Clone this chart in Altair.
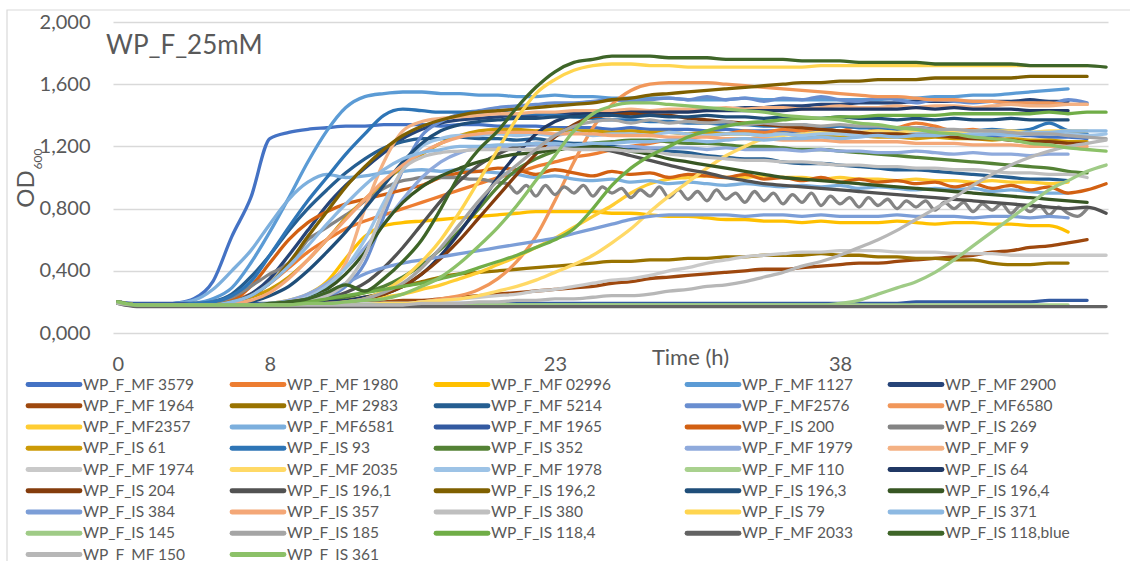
import altair as alt
import pandas as pd

# ---- time grids (hours) ----
HOURS = list(range(53))
HALF_HOURS = [h / 2 for h in range(103)]

# ---- OD600 readings per strain ----
mf_3579 = [
    0.20, 0.18, 0.18, 0.19, 0.22, 0.33, 0.62, 0.87, 1.25, 1.29,
    1.31, 1.32, 1.33, 1.33, 1.34, 1.34, 1.34, 1.33, 1.34, 1.34,
    1.33, 1.33, 1.33, 1.32, 1.32, 1.32, 1.31, 1.32, 1.31, 1.31,
    1.31, 1.30, 1.31, 1.30, 1.30, 1.30, 1.29, 1.30, 1.29, 1.29,
    1.29, 1.28, 1.28, 1.29, 1.28, 1.28, 1.27, 1.27, 1.27, 1.26,
    1.26, 1.25]
mf_1980 = [
    0.20, 0.18, 0.18, 0.18, 0.18, 0.19, 0.21, 0.25, 0.32, 0.42,
    0.52, 0.60, 0.67, 0.72, 0.76, 0.80, 0.84, 0.88, 0.92, 0.96,
    1.00, 1.03, 1.07, 1.10, 1.13, 1.15, 1.18, 1.20, 1.22, 1.24,
    1.25, 1.27, 1.28, 1.30, 1.29, 1.31, 1.30, 1.32, 1.30, 1.33,
    1.31, 1.32, 1.35, 1.33, 1.30, 1.31, 1.29, 1.30, 1.28, 1.29,
    1.27]
mf_02996 = [
    0.20, 0.18, 0.18, 0.18, 0.18, 0.18, 0.18, 0.18, 0.19, 0.21,
    0.25, 0.33, 0.48, 0.62, 0.69, 0.71, 0.72, 0.73, 0.74, 0.75,
    0.76, 0.77, 0.78, 0.78, 0.78, 0.78, 0.77, 0.77, 0.76, 0.75,
    0.75, 0.74, 0.73, 0.73, 0.72, 0.72, 0.71, 0.72, 0.71, 0.71,
    0.71, 0.72, 0.71, 0.70, 0.71, 0.71, 0.70, 0.70, 0.69, 0.69,
    0.65]
mf_1127 = [
    0.20, 0.18, 0.18, 0.18, 0.19, 0.22, 0.29, 0.45, 0.65, 0.87,
    1.10, 1.30, 1.45, 1.52, 1.54, 1.55, 1.55, 1.54, 1.54, 1.53,
    1.53, 1.52, 1.52, 1.53, 1.52, 1.52, 1.51, 1.51, 1.51, 1.51,
    1.50, 1.50, 1.50, 1.51, 1.50, 1.50, 1.50, 1.50, 1.50, 1.50,
    1.50, 1.51, 1.51, 1.52, 1.52, 1.53, 1.53, 1.54, 1.55, 1.56,
    1.57]
mf_2900 = [
    0.20, 0.18, 0.18, 0.18, 0.18, 0.19, 0.20, 0.25, 0.35, 0.50,
    0.66, 0.82, 0.95, 1.06, 1.16, 1.25, 1.31, 1.35, 1.37, 1.38,
    1.39, 1.40, 1.40, 1.41, 1.41, 1.41, 1.42, 1.42, 1.42, 1.43,
    1.43, 1.44, 1.44, 1.45, 1.45, 1.46, 1.46, 1.47, 1.47, 1.48,
    1.48, 1.48, 1.49, 1.49, 1.49, 1.49, 1.49, 1.49, 1.50, 1.49,
    1.49]
mf_1964 = [
    0.20, 0.18, 0.18, 0.18, 0.18, 0.18, 0.18, 0.18, 0.18, 0.18,
    0.18, 0.19, 0.19, 0.20, 0.20, 0.21, 0.21, 0.22, 0.23, 0.24,
    0.25, 0.26, 0.27, 0.28, 0.29, 0.30, 0.32, 0.33, 0.35, 0.36,
    0.37, 0.38, 0.39, 0.40, 0.41, 0.41, 0.42, 0.43, 0.44, 0.45,
    0.45, 0.46, 0.47, 0.48, 0.49, 0.50, 0.52, 0.53, 0.55, 0.56,
    0.58, 0.60]
mf_2983 = [
    0.20, 0.18, 0.18, 0.18, 0.18, 0.18, 0.18, 0.18, 0.18, 0.18,
    0.19, 0.20, 0.21, 0.23, 0.26, 0.30, 0.33, 0.36, 0.38, 0.39,
    0.40, 0.41, 0.42, 0.43, 0.44, 0.45, 0.46, 0.46, 0.47, 0.47,
    0.48, 0.48, 0.49, 0.49, 0.50, 0.50, 0.50, 0.51, 0.50, 0.50,
    0.49, 0.49, 0.48, 0.48, 0.47, 0.47, 0.45, 0.44, 0.44, 0.45,
    0.45]
mf_5214 = [
    0.20, 0.18, 0.18, 0.18, 0.18, 0.20, 0.25, 0.36, 0.50, 0.66,
    0.80, 0.92, 1.03, 1.12, 1.19, 1.23, 1.25, 1.25, 1.26, 1.25,
    1.25, 1.24, 1.25, 1.23, 1.22, 1.22, 1.20, 1.19, 1.18, 1.17,
    1.16, 1.14, 1.13, 1.12, 1.12, 1.10, 1.09, 1.09, 1.08, 1.07,
    1.06, 1.05, 1.05, 1.04, 1.03, 1.02, 1.01, 1.00, 0.99, 0.99,
    0.98]
mf_2576 = [
    0.20, 0.18, 0.18, 0.18, 0.18, 0.18, 0.18, 0.18, 0.18, 0.19,
    0.20, 0.23, 0.30, 0.45, 0.75, 1.05, 1.27, 1.36, 1.41, 1.43,
    1.45, 1.46, 1.47, 1.48, 1.48, 1.49, 1.50, 1.49, 1.50, 1.51,
    1.50, 1.52, 1.50, 1.51, 1.49, 1.51, 1.50, 1.52, 1.50, 1.49,
    1.51, 1.50, 1.48, 1.50, 1.49, 1.48, 1.49, 1.47, 1.48, 1.47,
    1.50, 1.48]
mf_6580 = [
    0.20, 0.18, 0.18, 0.18, 0.18, 0.18, 0.18, 0.18, 0.18, 0.18,
    0.18, 0.18, 0.18, 0.18, 0.19, 0.19, 0.20, 0.22, 0.24, 0.28,
    0.35, 0.46, 0.62, 0.85, 1.10, 1.32, 1.47, 1.56, 1.60, 1.61,
    1.61, 1.61, 1.60, 1.59, 1.58, 1.57, 1.56, 1.55, 1.54, 1.53,
    1.52, 1.52, 1.51, 1.50, 1.50, 1.49, 1.49, 1.48, 1.48, 1.48,
    1.47, 1.47]
mf_2357 = [
    0.20, 0.18, 0.18, 0.18, 0.18, 0.18, 0.18, 0.18, 0.18, 0.18,
    0.18, 0.19, 0.20, 0.21, 0.23, 0.25, 0.28, 0.31, 0.35, 0.39,
    0.44, 0.49, 0.55, 0.61, 0.68, 0.75, 0.82, 0.90, 0.96, 0.99,
    1.00, 1.01, 1.00, 1.00, 1.01, 1.00, 1.00, 0.99, 1.00, 0.99,
    0.99, 0.98, 0.99, 0.98, 0.98, 0.97, 0.98, 0.97, 0.97, 0.96,
    0.97]
mf_6581 = [
    0.20, 0.18, 0.18, 0.19, 0.21, 0.28, 0.40, 0.53, 0.70, 0.86,
    0.97, 1.02, 1.00, 1.01, 1.03, 1.04, 1.05, 1.04, 1.05, 1.04,
    1.03, 1.02, 1.00, 1.01, 0.99, 0.98, 0.99, 0.97, 0.98, 0.96,
    0.97, 0.96, 0.95, 0.96, 0.95, 0.94, 0.95, 0.94, 0.95, 0.93,
    0.94, 0.93, 0.92, 0.93, 0.92, 0.93, 0.91, 0.92, 0.91, 0.90,
    0.90]
mf_1965 = [
    0.20, 0.19, 0.19, 0.19, 0.19, 0.19, 0.19, 0.19, 0.19, 0.19,
    0.19, 0.19, 0.19, 0.19, 0.19, 0.19, 0.19, 0.19, 0.19, 0.19,
    0.19, 0.19, 0.19, 0.19, 0.19, 0.19, 0.19, 0.19, 0.19, 0.19,
    0.19, 0.19, 0.19, 0.19, 0.19, 0.19, 0.19, 0.19, 0.19, 0.19,
    0.19, 0.19, 0.20, 0.20, 0.20, 0.20, 0.20, 0.20, 0.20, 0.21,
    0.21, 0.21]
is_200 = [
    0.20, 0.18, 0.18, 0.18, 0.18, 0.19, 0.21, 0.30, 0.45, 0.60,
    0.71, 0.78, 0.83, 0.86, 0.89, 0.92, 0.95, 1.00, 1.03, 1.04,
    1.06, 1.05, 1.02, 1.05, 1.03, 1.01, 1.04, 1.02, 1.03, 1.00,
    1.02, 1.01, 1.00, 1.02, 0.99, 1.00, 0.98, 1.00, 0.97, 0.99,
    0.97, 0.98, 0.96, 0.97, 0.94, 0.96, 0.93, 0.95, 0.92, 0.94,
    0.90, 0.92, 0.96]
# read every half hour
is_269 = [
    0.20, 0.18, 0.18, 0.18, 0.18, 0.18, 0.18, 0.18, 0.19, 0.19,
    0.20, 0.21, 0.23, 0.26, 0.30, 0.34, 0.38, 0.41, 0.45, 0.52,
    0.60, 0.64, 0.68, 0.72, 0.76, 0.80, 0.85, 0.89, 0.93, 0.96,
    0.98, 0.99, 1.00, 1.00, 1.00, 1.00, 1.00, 0.99, 0.99, 0.98,
    0.97, 0.96, 0.90, 0.95, 0.88, 0.95, 0.89, 0.94, 0.90, 0.95,
    0.88, 0.94, 0.90, 0.93, 0.87, 0.92, 0.88, 0.94, 0.87, 0.92,
    0.86, 0.91, 0.85, 0.92, 0.86, 0.90, 0.84, 0.91, 0.85, 0.90,
    0.83, 0.89, 0.84, 0.90, 0.82, 0.88, 0.83, 0.87, 0.81, 0.87,
    0.82, 0.86, 0.80, 0.85, 0.81, 0.85, 0.79, 0.84, 0.80, 0.84,
    0.78, 0.83, 0.79, 0.83, 0.77, 0.82, 0.78, 0.82, 0.76, 0.81,
    0.77, 0.75, 0.80]
is_61 = [
    0.20, 0.18, 0.18, 0.18, 0.18, 0.18, 0.20, 0.23, 0.28, 0.36,
    0.47, 0.60, 0.74, 0.86, 0.97, 1.07, 1.15, 1.22, 1.27, 1.30,
    1.31, 1.31, 1.30, 1.31, 1.30, 1.30, 1.29, 1.30, 1.29, 1.29,
    1.28, 1.29, 1.28, 1.28, 1.27, 1.28, 1.27, 1.27, 1.26, 1.27,
    1.26, 1.26, 1.25, 1.26, 1.25, 1.25, 1.24, 1.25, 1.24, 1.24,
    1.23, 1.23]
is_93 = [
    0.20, 0.18, 0.18, 0.18, 0.19, 0.20, 0.24, 0.33, 0.50, 0.68,
    0.85, 1.00, 1.15, 1.28, 1.40, 1.44, 1.43, 1.42, 1.42, 1.42,
    1.42, 1.41, 1.41, 1.40, 1.39, 1.38, 1.37, 1.37, 1.36, 1.36,
    1.35, 1.35, 1.34, 1.34, 1.33, 1.33, 1.34, 1.32, 1.33, 1.32,
    1.32, 1.31, 1.32, 1.31, 1.30, 1.30, 1.31, 1.30, 1.31, 1.35,
    1.30, 1.28]
is_352 = [
    0.20, 0.18, 0.18, 0.18, 0.18, 0.18, 0.18, 0.18, 0.18, 0.19,
    0.20, 0.21, 0.23, 0.26, 0.30, 0.36, 0.44, 0.54, 0.66, 0.80,
    0.94, 1.05, 1.12, 1.17, 1.20, 1.22, 1.23, 1.24, 1.24, 1.23,
    1.22, 1.22, 1.21, 1.20, 1.20, 1.19, 1.18, 1.18, 1.17, 1.16,
    1.15, 1.14, 1.13, 1.12, 1.11, 1.10, 1.09, 1.08, 1.07, 1.06,
    1.04, 1.03]
mf_1979 = [
    0.20, 0.18, 0.18, 0.18, 0.18, 0.18, 0.18, 0.18, 0.19, 0.21,
    0.25, 0.32, 0.42, 0.55, 0.70, 0.86, 1.00, 1.10, 1.16, 1.19,
    1.20, 1.20, 1.21, 1.20, 1.20, 1.20, 1.19, 1.20, 1.19, 1.19,
    1.19, 1.18, 1.19, 1.18, 1.18, 1.18, 1.17, 1.18, 1.17, 1.17,
    1.16, 1.16, 1.17, 1.16, 1.15, 1.16, 1.15, 1.15, 1.14, 1.15,
    1.15]
mf_9 = [
    0.20, 0.18, 0.18, 0.18, 0.18, 0.18, 0.18, 0.18, 0.18, 0.20,
    0.23, 0.30, 0.45, 0.80, 1.10, 1.30, 1.36, 1.38, 1.39, 1.40,
    1.41, 1.41, 1.42, 1.42, 1.43, 1.43, 1.43, 1.44, 1.43, 1.44,
    1.44, 1.44, 1.45, 1.44, 1.45, 1.45, 1.44, 1.45, 1.46, 1.45,
    1.45, 1.46, 1.45, 1.46, 1.46, 1.45, 1.46, 1.47, 1.46, 1.46,
    1.47, 1.47]
mf_1974 = [
    0.20, 0.18, 0.18, 0.18, 0.18, 0.18, 0.18, 0.18, 0.18, 0.18,
    0.18, 0.18, 0.18, 0.19, 0.19, 0.19, 0.20, 0.21, 0.22, 0.23,
    0.24, 0.25, 0.27, 0.28, 0.30, 0.32, 0.34, 0.35, 0.37, 0.40,
    0.42, 0.45, 0.47, 0.49, 0.50, 0.51, 0.52, 0.52, 0.53, 0.53,
    0.53, 0.52, 0.52, 0.52, 0.51, 0.51, 0.51, 0.50, 0.50, 0.50,
    0.50, 0.50, 0.50]
mf_2035 = [
    0.20, 0.18, 0.18, 0.18, 0.18, 0.18, 0.18, 0.18, 0.18, 0.18,
    0.18, 0.18, 0.18, 0.18, 0.19, 0.19, 0.20, 0.21, 0.22, 0.24,
    0.27, 0.30, 0.34, 0.39, 0.44, 0.50, 0.58, 0.67, 0.78, 0.88,
    0.97, 1.06, 1.14, 1.20, 1.25, 1.27, 1.28, 1.29, 1.29, 1.29,
    1.30, 1.29, 1.30, 1.30, 1.29, 1.30, 1.30, 1.30, 1.29, 1.30,
    1.30, 1.30]
mf_1978 = [
    0.20, 0.18, 0.18, 0.18, 0.18, 0.18, 0.18, 0.18, 0.19, 0.20,
    0.23, 0.30, 0.42, 0.60, 0.84, 1.05, 1.20, 1.25, 1.27, 1.27,
    1.28, 1.27, 1.28, 1.27, 1.29, 1.27, 1.28, 1.28, 1.27, 1.29,
    1.28, 1.27, 1.28, 1.28, 1.27, 1.28, 1.27, 1.28, 1.28, 1.27,
    1.28, 1.27, 1.28, 1.28, 1.27, 1.28, 1.28, 1.27, 1.28, 1.28,
    1.28, 1.27, 1.28]
mf_110 = [
    0.19, 0.18, 0.18, 0.18, 0.18, 0.18, 0.18, 0.18, 0.18, 0.18,
    0.18, 0.18, 0.18, 0.18, 0.18, 0.18, 0.18, 0.18, 0.18, 0.18,
    0.18, 0.18, 0.18, 0.18, 0.18, 0.18, 0.18, 0.18, 0.18, 0.18,
    0.18, 0.18, 0.18, 0.18, 0.18, 0.18, 0.18, 0.18, 0.18, 0.18,
    0.18, 0.18, 0.18, 0.18, 0.18, 0.18, 0.18, 0.18, 0.18, 0.18,
    0.18]
is_64 = [
    0.20, 0.18, 0.18, 0.18, 0.18, 0.18, 0.18, 0.18, 0.18, 0.18,
    0.19, 0.20, 0.21, 0.23, 0.25, 0.30, 0.38, 0.50, 0.65, 0.82,
    1.00, 1.15, 1.28, 1.36, 1.40, 1.41, 1.41, 1.42, 1.42, 1.42,
    1.42, 1.43, 1.43, 1.43, 1.43, 1.43, 1.44, 1.44, 1.44, 1.44,
    1.44, 1.44, 1.45, 1.44, 1.45, 1.44, 1.44, 1.44, 1.43, 1.43,
    1.43]
is_204 = [
    0.20, 0.18, 0.18, 0.18, 0.18, 0.18, 0.18, 0.18, 0.18, 0.18,
    0.18, 0.19, 0.20, 0.22, 0.25, 0.30, 0.38, 0.48, 0.60, 0.74,
    0.88, 1.02, 1.15, 1.26, 1.34, 1.39, 1.40, 1.41, 1.40, 1.40,
    1.38, 1.37, 1.36, 1.35, 1.34, 1.33, 1.32, 1.31, 1.30, 1.29,
    1.28, 1.28, 1.27, 1.27, 1.26, 1.25, 1.25, 1.24, 1.23, 1.23,
    1.22, 1.22]
is_196_1 = [
    0.20, 0.18, 0.18, 0.18, 0.18, 0.18, 0.18, 0.18, 0.18, 0.19,
    0.20, 0.22, 0.26, 0.32, 0.42, 0.55, 0.70, 0.85, 0.98, 1.08,
    1.15, 1.20, 1.22, 1.22, 1.21, 1.19, 1.17, 1.14, 1.11, 1.08,
    1.05, 1.03, 1.00, 0.98, 0.96, 0.95, 0.94, 0.93, 0.92, 0.91,
    0.90, 0.89, 0.88, 0.87, 0.86, 0.85, 0.84, 0.83, 0.82, 0.81,
    0.80, 0.81, 0.77]
is_196_2 = [
    0.20, 0.18, 0.18, 0.18, 0.18, 0.18, 0.20, 0.24, 0.32, 0.45,
    0.62, 0.78, 0.94, 1.07, 1.18, 1.27, 1.33, 1.37, 1.40, 1.42,
    1.43, 1.44, 1.45, 1.46, 1.47, 1.48, 1.50, 1.51, 1.53, 1.54,
    1.55, 1.56, 1.57, 1.58, 1.59, 1.60, 1.61, 1.61, 1.62, 1.62,
    1.63, 1.63, 1.63, 1.64, 1.64, 1.64, 1.64, 1.64, 1.65, 1.65,
    1.65, 1.65]
is_196_3 = [
    0.20, 0.18, 0.18, 0.18, 0.18, 0.18, 0.18, 0.20, 0.24, 0.30,
    0.40, 0.52, 0.65, 0.80, 0.95, 1.10, 1.22, 1.30, 1.34, 1.36,
    1.37, 1.38, 1.38, 1.39, 1.39, 1.40, 1.40, 1.39, 1.40, 1.39,
    1.39, 1.40, 1.39, 1.39, 1.38, 1.39, 1.38, 1.38, 1.39, 1.38,
    1.38, 1.37, 1.38, 1.37, 1.38, 1.37, 1.37, 1.38, 1.37, 1.37,
    1.37]
is_196_4 = [
    0.20, 0.18, 0.18, 0.18, 0.18, 0.18, 0.18, 0.18, 0.18, 0.20,
    0.22, 0.28, 0.38, 0.52, 0.70, 0.84, 0.94, 1.01, 1.06, 1.10,
    1.13, 1.15, 1.16, 1.18, 1.19, 1.20, 1.19, 1.17, 1.15, 1.12,
    1.10, 1.08, 1.06, 1.04, 1.02, 1.00, 0.99, 0.98, 0.97, 0.96,
    0.95, 0.94, 0.93, 0.92, 0.91, 0.90, 0.89, 0.88, 0.87, 0.86,
    0.85, 0.84]
is_384 = [
    0.20, 0.18, 0.18, 0.18, 0.18, 0.18, 0.18, 0.18, 0.18, 0.19,
    0.22, 0.26, 0.32, 0.38, 0.42, 0.45, 0.47, 0.49, 0.51, 0.53,
    0.55, 0.57, 0.59, 0.61, 0.64, 0.67, 0.70, 0.73, 0.75, 0.76,
    0.76, 0.76, 0.76, 0.75, 0.76, 0.76, 0.75, 0.76, 0.75, 0.75,
    0.75, 0.76, 0.75, 0.75, 0.75, 0.74, 0.75, 0.75, 0.74, 0.75,
    0.74]
is_357 = [
    0.20, 0.18, 0.18, 0.18, 0.18, 0.18, 0.19, 0.21, 0.26, 0.35,
    0.47, 0.60, 0.73, 0.86, 0.98, 1.08, 1.16, 1.22, 1.26, 1.28,
    1.29, 1.29, 1.29, 1.28, 1.28, 1.28, 1.27, 1.27, 1.27, 1.26,
    1.26, 1.26, 1.25, 1.25, 1.25, 1.24, 1.24, 1.24, 1.23, 1.23,
    1.23, 1.23, 1.22, 1.22, 1.22, 1.21, 1.21, 1.21, 1.20, 1.20,
    1.20, 1.20]
is_380 = [
    0.20, 0.18, 0.18, 0.18, 0.18, 0.18, 0.18, 0.18, 0.18, 0.18,
    0.20, 0.24, 0.32, 0.50, 0.80, 1.05, 1.13, 1.16, 1.17, 1.18,
    1.18, 1.18, 1.18, 1.19, 1.18, 1.18, 1.18, 1.17, 1.17, 1.15,
    1.14, 1.13, 1.12, 1.11, 1.11, 1.10, 1.10, 1.09, 1.08, 1.08,
    1.07, 1.07, 1.06, 1.06, 1.05, 1.05, 1.04, 1.03, 1.03, 1.02,
    1.02, 1.00]
is_79 = [
    0.20, 0.18, 0.18, 0.18, 0.18, 0.18, 0.18, 0.18, 0.18, 0.18,
    0.18, 0.18, 0.20, 0.22, 0.27, 0.35, 0.46, 0.60, 0.78, 0.98,
    1.18, 1.38, 1.54, 1.63, 1.69, 1.72, 1.73, 1.73, 1.72, 1.72,
    1.71, 1.71, 1.71, 1.71, 1.71, 1.71, 1.71, 1.72, 1.72, 1.72,
    1.72, 1.72, 1.72, 1.72, 1.72, 1.72, 1.72, 1.72, 1.72, 1.72,
    1.72, 1.72]
is_371 = [
    0.20, 0.18, 0.18, 0.18, 0.18, 0.18, 0.20, 0.24, 0.32, 0.43,
    0.56, 0.70, 0.83, 0.95, 1.05, 1.12, 1.16, 1.18, 1.20, 1.20,
    1.21, 1.21, 1.22, 1.22, 1.21, 1.22, 1.22, 1.23, 1.23, 1.24,
    1.24, 1.23, 1.24, 1.25, 1.24, 1.25, 1.25, 1.26, 1.25, 1.26,
    1.27, 1.26, 1.27, 1.27, 1.28, 1.27, 1.28, 1.28, 1.29, 1.29,
    1.30, 1.30, 1.30]
is_145 = [
    0.19, 0.18, 0.18, 0.18, 0.18, 0.18, 0.18, 0.18, 0.18, 0.18,
    0.18, 0.18, 0.18, 0.18, 0.18, 0.18, 0.18, 0.18, 0.18, 0.18,
    0.18, 0.18, 0.18, 0.18, 0.18, 0.18, 0.18, 0.18, 0.18, 0.18,
    0.18, 0.18, 0.18, 0.18, 0.18, 0.18, 0.18, 0.18, 0.19, 0.21,
    0.25, 0.29, 0.33, 0.39, 0.47, 0.56, 0.65, 0.74, 0.83, 0.92,
    0.98, 1.04, 1.08]
is_185 = [
    0.20, 0.18, 0.18, 0.18, 0.18, 0.18, 0.18, 0.18, 0.18, 0.18,
    0.18, 0.19, 0.20, 0.22, 0.26, 0.32, 0.42, 0.55, 0.70, 0.85,
    0.98, 1.08, 1.18, 1.27, 1.33, 1.36, 1.37, 1.35, 1.37, 1.35,
    1.36, 1.35, 1.36, 1.34, 1.35, 1.34, 1.34, 1.33, 1.34, 1.33,
    1.33, 1.32, 1.32, 1.31, 1.31, 1.30, 1.30, 1.29, 1.28, 1.28,
    1.27, 1.26, 1.25]
is_118_4 = [
    0.20, 0.18, 0.18, 0.18, 0.18, 0.18, 0.18, 0.18, 0.18, 0.19,
    0.20, 0.22, 0.24, 0.26, 0.28, 0.30, 0.32, 0.35, 0.38, 0.42,
    0.46, 0.50, 0.55, 0.60, 0.67, 0.80, 0.95, 1.06, 1.14, 1.20,
    1.26, 1.30, 1.33, 1.35, 1.36, 1.37, 1.38, 1.38, 1.39, 1.39,
    1.40, 1.40, 1.40, 1.40, 1.41, 1.41, 1.41, 1.41, 1.41, 1.42,
    1.41, 1.42, 1.42]
mf_2033 = [
    0.19, 0.17, 0.17, 0.17, 0.17, 0.17, 0.17, 0.17, 0.17, 0.17,
    0.17, 0.17, 0.17, 0.17, 0.17, 0.17, 0.17, 0.17, 0.17, 0.17,
    0.17, 0.17, 0.17, 0.17, 0.17, 0.17, 0.17, 0.17, 0.17, 0.17,
    0.17, 0.17, 0.17, 0.17, 0.17, 0.17, 0.17, 0.17, 0.17, 0.17,
    0.17, 0.17, 0.17, 0.17, 0.17, 0.17, 0.17, 0.17, 0.17, 0.17,
    0.17, 0.17, 0.17]
is_118_blue = [
    0.20, 0.18, 0.18, 0.18, 0.18, 0.18, 0.18, 0.18, 0.19, 0.20,
    0.22, 0.26, 0.31, 0.27, 0.35, 0.46, 0.60, 0.80, 1.02, 1.18,
    1.30, 1.45, 1.58, 1.68, 1.74, 1.76, 1.78, 1.78, 1.78, 1.77,
    1.77, 1.77, 1.76, 1.76, 1.76, 1.76, 1.75, 1.75, 1.75, 1.74,
    1.74, 1.74, 1.74, 1.73, 1.73, 1.73, 1.73, 1.73, 1.72, 1.72,
    1.72, 1.72, 1.71]
mf_150 = [
    0.19, 0.18, 0.18, 0.18, 0.18, 0.18, 0.18, 0.18, 0.18, 0.18,
    0.18, 0.18, 0.18, 0.18, 0.18, 0.18, 0.19, 0.19, 0.19, 0.20,
    0.20, 0.21, 0.21, 0.22, 0.22, 0.23, 0.24, 0.24, 0.25, 0.27,
    0.28, 0.30, 0.31, 0.33, 0.36, 0.39, 0.43, 0.46, 0.50, 0.55,
    0.60, 0.66, 0.73, 0.80, 0.87, 0.95, 1.02, 1.08, 1.13, 1.17,
    1.20, 1.22, 1.24]
is_361 = [
    0.20, 0.18, 0.18, 0.18, 0.18, 0.18, 0.18, 0.18, 0.18, 0.18,
    0.19, 0.19, 0.20, 0.21, 0.22, 0.25, 0.30, 0.36, 0.45, 0.56,
    0.68, 0.82, 0.98, 1.14, 1.30, 1.41, 1.46, 1.48, 1.48, 1.47,
    1.46, 1.45, 1.44, 1.43, 1.42, 1.40, 1.39, 1.38, 1.37, 1.35,
    1.34, 1.32, 1.31, 1.29, 1.28, 1.26, 1.25, 1.24, 1.22, 1.21,
    1.19, 1.18, 1.17]

# legend order = drawing order (later series on top)
SERIES = [
    ("WP_F_MF 3579", "#4472C4", mf_3579),
    ("WP_F_MF 1980", "#ED7D31", mf_1980),
    ("WP_F_MF 02996", "#FFC000", mf_02996),
    ("WP_F_MF 1127", "#5B9BD5", mf_1127),
    ("WP_F_MF 2900", "#264478", mf_2900),
    ("WP_F_MF 1964", "#9E480E", mf_1964),
    ("WP_F_MF 2983", "#997300", mf_2983),
    ("WP_F_MF 5214", "#255E91", mf_5214),
    ("WP_F_MF2576", "#698ED0", mf_2576),
    ("WP_F_MF6580", "#F1975A", mf_6580),
    ("WP_F_MF2357", "#FFCD33", mf_2357),
    ("WP_F_MF6581", "#7CAFDD", mf_6581),
    ("WP_F_MF 1965", "#335AA1", mf_1965),
    ("WP_F_IS 200", "#D26012", is_200),
    ("WP_F_IS 269", "#848484", is_269),
    ("WP_F_IS 61", "#CC9A06", is_61),
    ("WP_F_IS 93", "#2E75B6", is_93),
    ("WP_F_IS 352", "#548235", is_352),
    ("WP_F_MF 1979", "#8FAADC", mf_1979),
    ("WP_F_MF 9", "#F4B183", mf_9),
    ("WP_F_MF 1974", "#C9C9C9", mf_1974),
    ("WP_F_MF 2035", "#FFD966", mf_2035),
    ("WP_F_MF 1978", "#9DC3E6", mf_1978),
    ("WP_F_MF 110", "#A9D18E", mf_110),
    ("WP_F_IS 64", "#203864", is_64),
    ("WP_F_IS 204", "#843C0C", is_204),
    ("WP_F_IS 196,1", "#525252", is_196_1),
    ("WP_F_IS 196,2", "#7F6000", is_196_2),
    ("WP_F_IS 196,3", "#1F4E79", is_196_3),
    ("WP_F_IS 196,4", "#375623", is_196_4),
    ("WP_F_IS 384", "#7C9ED7", is_384),
    ("WP_F_IS 357", "#F4A777", is_357),
    ("WP_F_IS 380", "#BFBFBF", is_380),
    ("WP_F_IS 79", "#FFD54F", is_79),
    ("WP_F_IS 371", "#8DB9E2", is_371),
    ("WP_F_IS 145", "#9FCB86", is_145),
    ("WP_F_IS 185", "#A5A5A5", is_185),
    ("WP_F_IS 118,4", "#70AD47", is_118_4),
    ("WP_F_MF 2033", "#636363", mf_2033),
    ("WP_F_IS 118,blue", "#3E6528", is_118_blue),
    ("WP_F_MF 150", "#B7B7B7", mf_150),
    ("WP_F_IS 361", "#8CC168", is_361),
]
HALF_HOURLY = {"WP_F_IS 269"}

X_TICKS = [0, 8, 23, 38]
Y_TICKS = [0.0, 0.4, 0.8, 1.2, 1.6, 2.0]

# ---- layout ----
FONT = "Lato"
TEXT = "#595959"
GRID = "#D9D9D9"
PLOT_LEFT, PLOT_TOP = 113, 22
PLOT_W, PLOT_H = 995, 311
CANVAS_W, CANVAS_H = 1130, 561
LEGEND_COL_X = [28, 232, 436, 687, 890]
LEGEND_ROW_Y0, LEGEND_ROW_STEP = 384.5, 21.25
SWATCH_LEN, LABEL_GAP = 52, 55

x_enc = alt.X(
    "t:Q",
    scale=alt.Scale(domain=[-0.25, 52.1], nice=False, zero=False),
    axis=alt.Axis(
        values=X_TICKS, title="Time (h)", grid=False, domain=False, ticks=False,
        tickSize=0, labelFont=FONT, labelFontSize=20, labelColor=TEXT,
        labelPadding=31, labelBaseline="middle", labelFlush=False,
        titleFont=FONT, titleFontSize=22, titleColor=TEXT, titleFontWeight="normal",
        titleX=577, titleY=24, titleAlign="center", titleBaseline="middle",
    ),
)
y_enc = alt.Y(
    "v:Q",
    scale=alt.Scale(domain=[0, 2], nice=False),
    axis=alt.Axis(
        values=Y_TICKS, title=None, domain=False, ticks=False, tickSize=0,
        grid=True, gridColor=GRID, gridWidth=1.4,
        labelExpr="replace(format(datum.value, '.3f'), '.', ',')",
        labelFont=FONT, labelFontSize=20, labelColor=TEXT, labelPadding=23,
    ),
)

layers = []

# outer chart frame
frame = alt.Chart(pd.DataFrame({"k": [0]})).mark_rect(
    fill="white", fillOpacity=0, stroke=GRID, strokeWidth=1.2
).encode(
    x=alt.value(7 - PLOT_LEFT), x2=alt.value(CANVAS_W + 20 - PLOT_LEFT),
    y=alt.value(10 - PLOT_TOP), y2=alt.value(CANVAS_H + 20 - PLOT_TOP),
)
layers.append(frame)

for name, color, values in SERIES:
    times = HALF_HOURS if name in HALF_HOURLY else HOURS
    df = pd.DataFrame({"t": times[: len(values)], "v": values})
    layers.append(
        alt.Chart(df)
        .mark_line(color=color, strokeWidth=3.3, strokeCap="round",
                   strokeJoin="round", interpolate="monotone")
        .encode(x=x_enc, y=y_enc)
    )

# legend in five columns under the plot
n = len(SERIES)
legend_df = pd.DataFrame({
    "name": [s[0] for s in SERIES],
    "color": [s[1] for s in SERIES],
    "sx": [LEGEND_COL_X[i % 5] - PLOT_LEFT for i in range(n)],
    "sx2": [LEGEND_COL_X[i % 5] + SWATCH_LEN - PLOT_LEFT for i in range(n)],
    "tx": [LEGEND_COL_X[i % 5] + LABEL_GAP - PLOT_LEFT for i in range(n)],
    "ly": [LEGEND_ROW_Y0 + LEGEND_ROW_STEP * (i // 5) - PLOT_TOP for i in range(n)],
})
swatches = alt.Chart(legend_df).mark_rule(strokeWidth=4.8, strokeCap="round").encode(
    x=alt.X("sx:Q", scale=None, axis=None),
    x2="sx2:Q",
    y=alt.Y("ly:Q", scale=None, axis=None),
    color=alt.Color("color:N", scale=None),
)
labels = alt.Chart(legend_df).mark_text(
    align="left", baseline="middle", font=FONT, fontSize=15.5, color=TEXT
).encode(
    x=alt.X("tx:Q", scale=None, axis=None),
    y=alt.Y("ly:Q", scale=None, axis=None),
    text="name:N",
)
layers += [swatches, labels]

# chart title inside the plot area
title = alt.Chart(pd.DataFrame({"s": ["WP_F_25mM"]})).mark_text(
    align="left", baseline="middle", font=FONT, fontSize=26, color=TEXT
).encode(x=alt.value(106 - PLOT_LEFT), y=alt.value(46 - PLOT_TOP), text="s:N")

# y-axis title OD with subscript 600
od = alt.Chart(pd.DataFrame({"s": ["OD"]})).mark_text(
    align="center", baseline="middle", font=FONT, fontSize=24, color=TEXT, angle=270
).encode(x=alt.value(27 - PLOT_LEFT), y=alt.value(189 - PLOT_TOP), text="s:N")
sub = alt.Chart(pd.DataFrame({"s": ["600"]})).mark_text(
    align="center", baseline="middle", font=FONT, fontSize=12, color=TEXT, angle=270
).encode(x=alt.value(38 - PLOT_LEFT), y=alt.value(159 - PLOT_TOP), text="s:N")
layers += [title, od, sub]

chart = (
    alt.layer(*layers)
    .properties(
        width=PLOT_W, height=PLOT_H,
        autosize=alt.AutoSizeParams(type="none"),
        padding={"left": PLOT_LEFT, "top": PLOT_TOP,
                 "right": CANVAS_W - PLOT_LEFT - PLOT_W,
                 "bottom": CANVAS_H - PLOT_TOP - PLOT_H},
        background="white",
    )
    .configure_view(strokeWidth=0)
)

chart.save("out.html", embed_options={"renderer": "svg", "actions": False})
